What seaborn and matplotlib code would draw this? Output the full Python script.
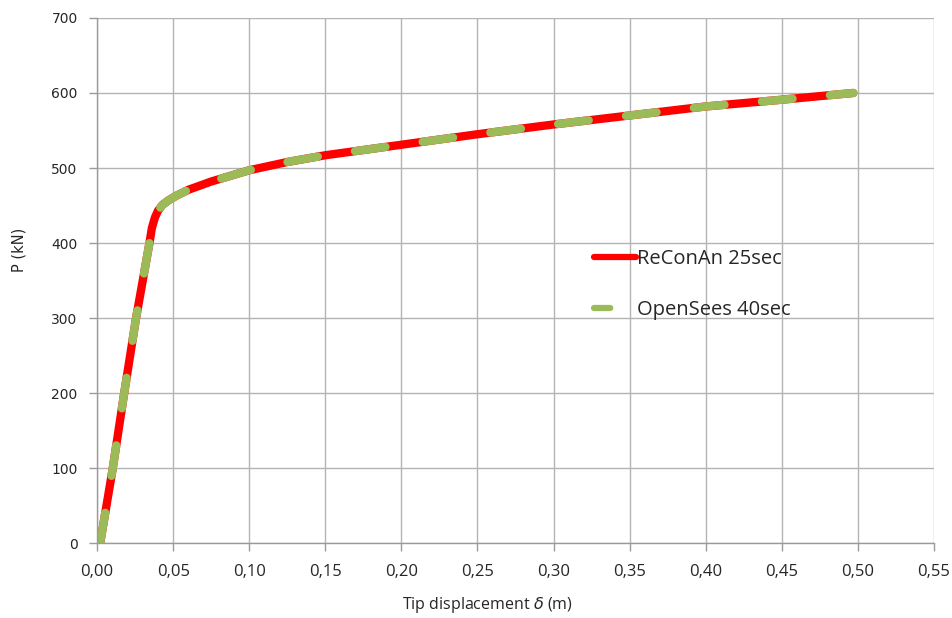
import matplotlib
matplotlib.use("Agg")
import matplotlib.pyplot as plt
import seaborn as sns
import pandas as pd
from matplotlib.ticker import FuncFormatter

# Data
disp = [0.002, 0.0103, 0.0178, 0.0256, 0.0344, 0.036, 0.038, 0.040, 0.043, 0.047,
        0.052, 0.060, 0.075, 0.100, 0.125, 0.150, 0.200, 0.250, 0.300, 0.350,
        0.400, 0.450, 0.497]
load = [0, 100, 200, 300, 400, 420, 434, 443, 451, 457,
        463, 471, 482, 497, 508, 517, 531, 545, 558, 570,
        582, 591, 600]
series_reconan = "ReConAn 25sec"
series_opensees = "OpenSees 40sec"
x_ticks = [0.00, 0.05, 0.10, 0.15, 0.20, 0.25, 0.30, 0.35, 0.40, 0.45, 0.50, 0.55]
y_ticks = [0, 100, 200, 300, 400, 500, 600, 700]

sns.set_theme(style="white")
plt.rcParams['font.family'] = ['DejaVu Sans']

df = pd.DataFrame({"disp": disp, "load": load})

fig = plt.figure(figsize=(9.52, 6.18), dpi=100)
ax = fig.add_axes([0.102, 0.121, 0.879, 0.850])

sns.lineplot(data=df, x="disp", y="load", ax=ax, sort=False, color="#FF0000",
             linewidth=6.0, label=series_reconan, solid_capstyle="round")
sns.lineplot(data=df, x="disp", y="load", ax=ax, sort=False, color="#9BBB59",
             linewidth=6.0, label=series_opensees)
ax.lines[1].set_dashes((3.7, 4.5))
ax.lines[1].set_dash_capstyle("round")

ax.set_xlim(0, 0.55)
ax.set_ylim(0, 700)
ax.set_xticks(x_ticks)
ax.set_yticks(y_ticks)
ax.xaxis.set_major_formatter(FuncFormatter(lambda v, p: f"{v:.2f}".replace(".", ",")))
ax.grid(True, color="#b3b3b3", linewidth=1.0)
ax.set_axisbelow(True)

for s in ["top", "right"]:
    ax.spines[s].set_visible(False)
for s in ["left", "bottom"]:
    ax.spines[s].set_color("#9a9a9a")
    ax.spines[s].set_linewidth(1.0)

ax.tick_params(axis="both", which="major", length=6, color="#9a9a9a", width=1.0,
               bottom=True, left=True, direction="out")
ax.tick_params(axis="y", labelsize=10, pad=8)
ax.tick_params(axis="x", labelsize=12, pad=9)
for lab in ax.get_xticklabels():
    lab.set_family("Open Sans")
    lab.set_fontsize(12)

ax.set_xlabel("Tip displacement $\\delta$ (m)", fontsize=11.5, family="Open Sans")
ax.xaxis.set_label_coords(0.466, -0.098)
ax.set_ylabel("P (kN)", fontsize=10.5)
ax.yaxis.set_label_coords(-0.084, 0.558)

leg = ax.legend(loc="upper left", bbox_to_anchor=(0.572, 0.595), frameon=False,
                handlelength=2.1, handletextpad=0.05, labelspacing=1.55,
                prop={"family": "Open Sans", "size": 14.5})
handles = leg.get_lines()
handles[0].set_linewidth(4.5)
handles[1].set_linewidth(4.5)
handles[1].set_dashes((2.6, 10))
handles[1].set_dash_capstyle("round")

fig.savefig("out.png", dpi=100)
